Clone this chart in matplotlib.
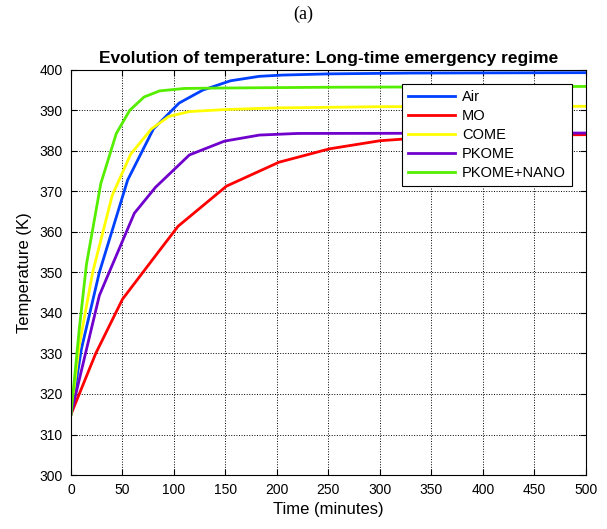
import matplotlib
matplotlib.use("Agg")
import matplotlib.pyplot as plt

plt.rcParams["font.family"] = ["Liberation Sans", "DejaVu Sans"]

# tiempos (min) y temperaturas (K)
t_air = [0, 10, 27.5, 55, 80, 105, 128, 155, 183, 205, 250, 330, 500]
T_air = [315, 331, 350, 372.8, 385.4, 391.8, 395, 397.3, 398.4, 398.7, 399, 399.2, 399.3]

t_mo = [0, 24, 50, 82, 104, 151, 202, 251, 300, 350, 400, 500]
T_mo = [315, 330, 343.4, 354.1, 361.4, 371.3, 377.2, 380.5, 382.5, 383.4, 383.8, 384]

t_come = [0, 8, 21, 40, 58, 78, 95, 115, 150, 200, 300, 500]
T_come = [315, 332, 350, 369, 379.2, 385.4, 388.5, 389.7, 390.2, 390.6, 390.9, 391]

t_pkome = [0, 15, 27.5, 37, 61.5, 82, 115, 149, 183, 220, 500]
T_pkome = [315, 331, 344.3, 350, 364.6, 371, 379, 382.4, 383.9, 384.3, 384.4]

t_nano = [0, 8, 15, 29, 44, 57, 71, 86, 110, 141, 250, 500]
T_nano = [315, 336, 352, 372, 384.3, 390, 393.3, 394.8, 395.4, 395.5, 395.7, 395.9]

series = [
    (t_air, T_air, "Air", "#0040ff"),
    (t_mo, T_mo, "MO", "#ff0000"),
    (t_come, T_come, "COME", "#ffff00"),
    (t_pkome, T_pkome, "PKOME", "#7000cc"),
    (t_nano, T_nano, "PKOME+NANO", "#55ee00"),
]

fig = plt.figure(figsize=(6.07, 5.29), dpi=100)
ax = fig.add_axes([0.117, 0.102, 0.848, 0.766])

for t, T, nombre, color in series:
    ax.plot(t, T, color=color, lw=2, label=nombre)

ax.set_xlim(0, 500)
ax.set_ylim(300, 400)
ax.set_xticks(range(0, 501, 50))
ax.set_yticks(range(300, 401, 10))
ax.grid(True, color="black", linestyle=":", linewidth=0.7)
ax.tick_params(direction="in", top=True, right=True, labelsize=10, length=4, pad=6)
for s in ax.spines.values():
    s.set_linewidth(0.8)

ax.set_xlabel("Time (minutes)", fontsize=12, labelpad=3)
ax.set_ylabel("Temperature (K)", fontsize=12, labelpad=5)
ax.set_title("Evolution of temperature: Long-time emergency regime",
             fontsize=12.5, fontweight="bold", pad=5)

leg = ax.legend(loc="upper right", bbox_to_anchor=(0.973, 0.965), fontsize=10.5,
                fancybox=False, framealpha=1, edgecolor="black",
                handlelength=3.2, handletextpad=0.5, borderpad=0.4,
                labelspacing=0.35, borderaxespad=0)
leg.get_frame().set_linewidth(0.8)

fig.text(0.5, 0.973, "(a)", ha="center", va="center", fontsize=13,
         family=["Liberation Serif", "DejaVu Serif"])

fig.savefig("out.png", dpi=100)
